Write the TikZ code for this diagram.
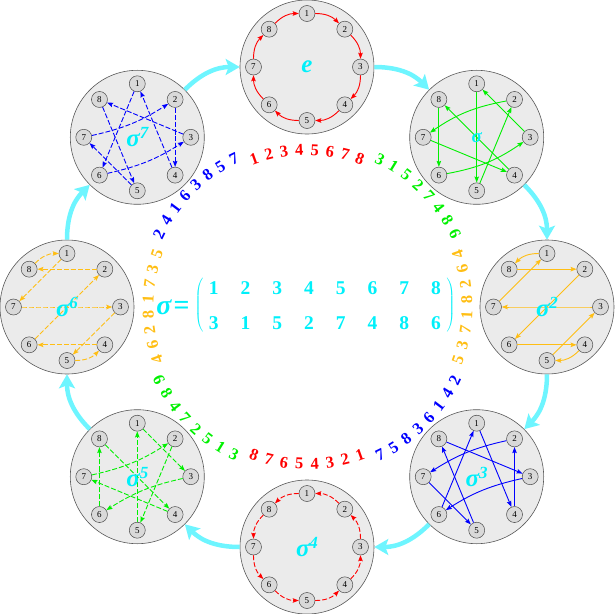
\documentclass[tikz,border=0pt]{standalone}
\usepackage{fontspec}
\setmainfont{Liberation Serif}
\usetikzlibrary{arrows.meta,matrix}

\definecolor{perm-red}{RGB}{255,0,0}
\definecolor{perm-green}{RGB}{0,240,0}
\definecolor{perm-orange}{RGB}{255,190,20}
\definecolor{perm-blue}{RGB}{0,0,255}
\definecolor{label-cyan}{RGB}{0,240,250}
\definecolor{step-cyan}{RGB}{110,245,255}

\tikzset{
    big-circle/.style = {circle, draw=black!65, fill=black!8, line width=0.6pt, minimum size=134pt, inner sep=0pt},
    small-node/.style = {circle, draw=black!70, fill=black!15, line width=0.5pt, minimum size=16pt, inner sep=0pt, font=\fontsize{9}{9}\selectfont},
    perm-arrow/.style = {-{Stealth[length=6pt, width=4.5pt, inset=1pt]}, line width=0.9pt},
    perm-dashed/.style = {dash pattern=on 5pt off 2pt},
    step-arrow/.style = {-{Stealth[length=14pt, width=16pt, inset=3pt]}, line width=4.5pt, draw=step-cyan},
    power-label/.style = {text=label-cyan, inner sep=0pt, font=\fontsize{25}{25}\selectfont\bfseries\itshape},
    perm-digit/.style = {inner sep=0pt, font=\fontsize{16.5}{16.5}\selectfont\bfseries},
    matrix-digit/.style = {text=label-cyan, inner sep=1pt, text height=13.5pt, text depth=0pt, font=\fontsize{19.5}{19.5}\selectfont\bfseries},
    sigma-eq/.style = {text=label-cyan, inner sep=0pt, font=\fontsize{28}{28}\selectfont\bfseries},
    every delimiter/.style = {text=label-cyan, inner sep=0pt},
}

\begin{document}
\begin{tikzpicture}[x=1pt, y=1pt]
\useasboundingbox (-307,-307) rectangle (307,307);

% the eight powers of sigma, each with its ring of points
\foreach \k in {0,...,7} {
    \node[big-circle] (c\k) at ({90-45*\k}:240) {};
    \foreach \i in {1,...,8}
        \node[small-node] (s\k-\i) at ([shift={({135-45*\i}:53.5)}]c\k) {\i};
}

% steps sigma^k -> sigma^(k+1)
\foreach \k [evaluate=\k as \n using {int(mod(\k+1,8))}] in {0,...,7}
    \draw[step-arrow] (c\k) to[bend left=22.5] (c\n);

% e
\foreach \a/\b/\bend in {1/2/22.5, 2/3/22.5, 3/4/22.5, 4/5/22.5, 5/6/22.5, 6/7/22.5, 7/8/22.5, 8/1/22.5}
    \draw[perm-arrow, perm-red] (s0-\a) to[bend left=\bend] (s0-\b);
% sigma
\foreach \a/\b/\bend in {3/1/0, 1/5/0, 5/2/0, 2/7/-12, 7/4/0, 4/8/0, 8/6/0, 6/3/-12}
    \draw[perm-arrow, perm-green] (s1-\a) to[bend left=\bend] (s1-\b);
% sigma^2
\foreach \a/\b/\bend in {5/3/0, 3/7/0, 7/1/0, 1/8/-22.5, 8/2/0, 2/6/0, 6/4/0, 4/5/22.5}
    \draw[perm-arrow, perm-orange] (s2-\a) to[bend left=\bend] (s2-\b);
% sigma^3
\foreach \a/\b/\bend in {7/5/0, 5/8/0, 8/3/0, 3/6/-10, 6/1/0, 1/4/0, 4/2/0, 2/7/-10}
    \draw[perm-arrow, perm-blue] (s3-\a) to[bend left=\bend] (s3-\b);
% sigma^4
\foreach \a/\b/\bend in {8/7/-22.5, 7/6/-22.5, 6/5/-22.5, 5/4/-22.5, 4/3/-22.5, 3/2/-22.5, 2/1/-22.5, 1/8/-22.5}
    \draw[perm-arrow, perm-dashed, perm-red] (s4-\a) to[bend left=\bend] (s4-\b);
% sigma^5
\foreach \a/\b/\bend in {6/8/0, 8/4/0, 4/7/0, 7/2/-10, 2/5/0, 5/1/0, 1/3/0, 3/6/-10}
    \draw[perm-arrow, perm-dashed, perm-green] (s5-\a) to[bend left=\bend] (s5-\b);
% sigma^6
\foreach \a/\b/\bend in {4/6/0, 6/2/0, 2/8/0, 8/1/22.5, 1/7/0, 7/3/0, 3/5/0, 5/4/-22.5}
    \draw[perm-arrow, perm-dashed, perm-orange] (s6-\a) to[bend left=\bend] (s6-\b);
% sigma^7
\foreach \a/\b/\bend in {2/4/0, 4/1/0, 1/6/0, 6/3/-10, 3/8/0, 8/5/0, 5/7/0, 7/2/-10}
    \draw[perm-arrow, perm-dashed, perm-blue] (s7-\a) to[bend left=\bend] (s7-\b);

% names in the middle of the circles
\node[power-label] (l0) at (c0) {e};
\node[power-label, font=\fontsize{19}{19}\selectfont\bfseries\itshape] (l1) at (c1) {σ};
\foreach \k in {2,...,7}
    \node[power-label] (l\k) at (c\k) {σ\raisebox{8pt}{\fontsize{17}{17}\selectfont\k}};

% one-line notation round the inside
\foreach \k/\s/\r/\col/\seq in {
    0/1/157/perm-red/{1,2,3,4,5,6,7,8},
    1/1/165/perm-green/{3,1,5,2,7,4,8,6},
    2/-1/160/perm-orange/{5,3,7,1,8,2,6,4},
    3/-1/165/perm-blue/{7,5,8,3,6,1,4,2},
    4/-1/157/perm-red/{8,7,6,5,4,3,2,1},
    5/-1/165/perm-green/{6,8,4,7,2,5,1,3},
    6/1/159/perm-orange/{4,6,2,8,1,7,3,5},
    7/1/165/perm-blue/{2,4,1,6,3,8,5,7}} {
    \foreach \digit [count=\j from 0] in \seq {
        \pgfmathsetmacro{\ang}{90-45*\k+\s*(3.5-\j)*882/\r}
        \node[perm-digit, text=\col, rotate={\ang-90*\s}] (t\k-\j) at (\ang:\r) {\digit};
    }
}

% sigma in two-line notation
\node[sigma-eq] (sigma-name) at (-134,0) {{\itshape σ}\kern2pt=};
\matrix (sigma-matrix) [matrix of nodes, nodes={matrix-digit}, column sep=20pt, row sep=19.5pt,
    left delimiter=(, right delimiter=)] at (18,1.5) {
    1 & 2 & 3 & 4 & 5 & 6 & 7 & 8 \\
    3 & 1 & 5 & 2 & 7 & 4 & 8 & 6 \\
};
\end{tikzpicture}
\end{document}
